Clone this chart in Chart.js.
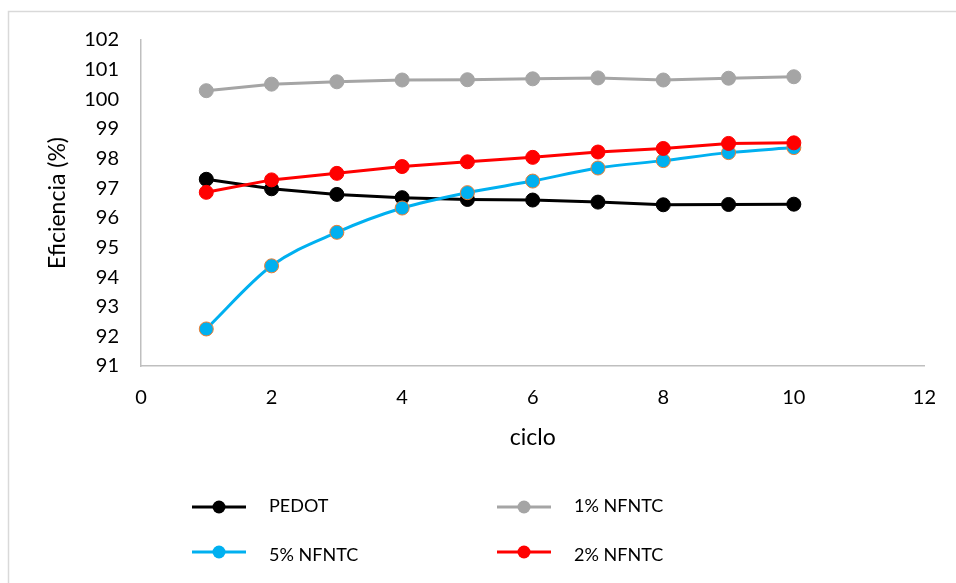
<!DOCTYPE html>
<html>
<head>
<meta charset="utf-8">
<script src="https://cdn.jsdelivr.net/npm/chart.js@4.4.1/dist/chart.umd.min.js"></script>
<style>
  html, body { margin: 0; padding: 0; background: #ffffff; }
  #wrap { width: 956px; height: 583px; position: relative; }
</style>
</head>
<body>
<div id="wrap"><canvas id="c" width="956" height="583"></canvas></div>
<script>
const cycles = [1, 2, 3, 4, 5, 6, 7, 8, 9, 10];
const pedot  = [97.30, 96.98, 96.79, 96.68, 96.62, 96.60, 96.53, 96.44, 96.45, 96.46];
const nfntc1 = [100.29, 100.51, 100.59, 100.65, 100.66, 100.69, 100.72, 100.65, 100.71, 100.76];
const nfntc5 = [92.25, 94.38, 95.51, 96.33, 96.85, 97.24, 97.68, 97.93, 98.20, 98.37];
const nfntc2 = [96.86, 97.28, 97.50, 97.73, 97.89, 98.04, 98.22, 98.34, 98.51, 98.53];
const seriesNames = ['PEDOT', '1% NFNTC', '5% NFNTC', '2% NFNTC'];
const xTitle = 'ciclo';
const yTitle = 'Eficiencia (%)';

const FONT = "Lato, 'Open Sans', 'Liberation Sans', sans-serif";

function pts(arr) { return cycles.map((c, i) => ({ x: c, y: arr[i] })); }

function ds(label, data, color, order, opts) {
  return Object.assign({
    label: label,
    data: pts(data),
    borderColor: color,
    backgroundColor: color,
    pointBackgroundColor: color,
    pointBorderColor: color,
    pointBorderWidth: 1,
    pointRadius: 7,
    pointHoverRadius: 7,
    borderWidth: 3,
    tension: 0,
    order: order
  }, opts || {});
}

// custom legend (two columns, two rows)
const legendSlots = [
  { x: 192, y: 507 },
  { x: 497, y: 507 },
  { x: 192, y: 552 },
  { x: 497, y: 552 }
];
const legendPlugin = {
  id: 'customLegend',
  afterDraw(chart) {
    const ctx = chart.ctx;
    ctx.save();
    chart.data.datasets.forEach((d, i) => {
      const s = legendSlots[i];
      ctx.strokeStyle = d.borderColor;
      ctx.lineWidth = 3;
      ctx.lineCap = 'butt';
      ctx.beginPath();
      ctx.moveTo(s.x, s.y);
      ctx.lineTo(s.x + 54, s.y);
      ctx.stroke();
      ctx.fillStyle = d.pointBackgroundColor;
      ctx.beginPath();
      ctx.arc(s.x + 27, s.y, 6.5, 0, Math.PI * 2);
      ctx.fill();
      ctx.fillStyle = '#000000';
      ctx.font = "18px " + FONT;
      ctx.textBaseline = 'middle';
      ctx.textAlign = 'left';
      ctx.fillText(d.label, s.x + 77, s.y + (i >= 2 ? 3 : -1));
    });
    ctx.restore();
  }
};

const framePlugin = {
  id: 'frame',
  beforeDraw(chart) {
    const ctx = chart.ctx;
    ctx.save();
    ctx.fillStyle = '#ffffff';
    ctx.fillRect(0, 0, chart.width, chart.height);
    ctx.strokeStyle = '#d9d9d9';
    ctx.lineWidth = 1.5;
    ctx.beginPath();
    ctx.moveTo(8.5, chart.height);
    ctx.lineTo(8.5, 11.5);
    ctx.lineTo(chart.width, 11.5);
    ctx.stroke();
    ctx.restore();
  }
};

new Chart(document.getElementById('c'), {
  type: 'line',
  data: {
    datasets: [
      ds(seriesNames[0], pedot, '#000000', 4),
      ds(seriesNames[1], nfntc1, '#a5a5a5', 3),
      ds(seriesNames[2], nfntc5, '#00b0f0', 2, { pointBorderColor: '#ed7d31', cubicInterpolationMode: 'monotone' }),
      ds(seriesNames[3], nfntc2, '#ff0000', 1)
    ]
  },
  options: {
    responsive: false,
    animation: false,
    devicePixelRatio: 1,
    layout: { padding: { left: 0, top: 40, right: 29, bottom: 0 } },
    plugins: {
      legend: { display: false },
      tooltip: { enabled: false }
    },
    scales: {
      x: {
        type: 'linear',
        min: 0, max: 12,
        grid: { display: false, drawTicks: false },
        border: { display: true, color: '#bfbfbf', width: 1.5 },
        ticks: { stepSize: 2, padding: 20, color: '#000000', font: { family: FONT, size: 20 } },
        title: { display: true, text: xTitle, color: '#000000', font: { family: FONT, size: 23 }, padding: { top: 0, bottom: 132 } },
        afterFit(scale) { scale.height = 583 - 366; }
      },
      y: {
        type: 'linear',
        min: 91, max: 102,
        grid: { display: false, drawTicks: false },
        border: { display: true, color: '#bfbfbf', width: 1.5 },
        ticks: { stepSize: 1, padding: 22, color: '#000000', font: { family: FONT, size: 20 } },
        title: { display: true, text: yTitle, color: '#000000', font: { family: FONT, size: 23 }, padding: { top: 44, bottom: 0 } },
        afterFit(scale) { scale.width = 141; }
      }
    }
  },
  plugins: [framePlugin, legendPlugin]
});
</script>
</body>
</html>
